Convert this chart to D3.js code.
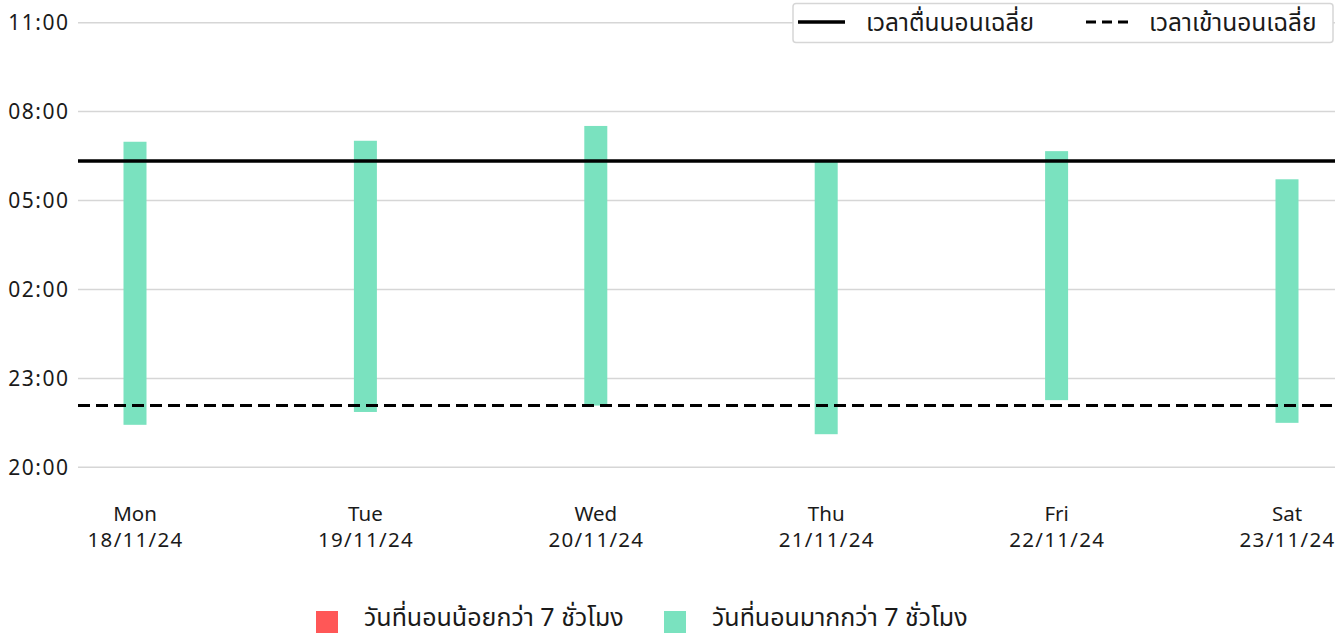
<!DOCTYPE html>
<html>
<head>
<meta charset="utf-8">
<script src="https://cdn.jsdelivr.net/npm/d3@7"></script>
<style>
  html, body { margin: 0; padding: 0; background: #fff; }
  svg { display: block; font-family: "Noto Sans", "Noto Sans Thai", "DejaVu Sans", sans-serif; }
</style>
</head>
<body>
<svg id="chart" width="1335" height="634"></svg>
<script>
// ---- data ----
const days = ["Mon", "Tue", "Wed", "Thu", "Fri", "Sat"];
const dates = ["18/11/24", "19/11/24", "20/11/24", "21/11/24", "22/11/24", "23/11/24"];
const bedTimes = ["21:26", "21:52", "22:05", "21:07", "22:16", "21:30"];
const wakeTimes = ["06:59", "07:01", "07:31", "06:19", "06:40", "05:43"];
const avgWake = "06:20";
const avgBed = "22:05";
const yTickLabels = ["20:00", "23:00", "02:00", "05:00", "08:00", "11:00"];
const legendLines = ["เวลาตื่นนอนเฉลี่ย", "เวลาเข้านอนเฉลี่ย"];
const legendBars = ["วันที่นอนน้อยกว่า 7 ชั่วโมง", "วันที่นอนมากกว่า 7 ชั่วโมง"];

const COLOR_SHORT = "#FF5757";
const COLOR_LONG = "#7AE2BF";

// hours since 20:00 (evening start)
function toH(t) {
  const [h, m] = t.split(":").map(Number);
  let v = h + m / 60 - 20;
  if (v < 0) v += 24;
  return v;
}

const svg = d3.select("#chart");
const left = 78, right = 1335;

const y = d3.scaleLinear().domain([0, 15]).range([467.3, 22.7]);
const x = d3.scalePoint().domain(days).range([135, 1287]);

// grid lines + y labels
const yTicks = yTickLabels.map(toH);
svg.append("g").selectAll("line").data(yTicks).join("line")
  .attr("x1", left).attr("x2", right)
  .attr("y1", d => y(d)).attr("y2", d => y(d))
  .attr("stroke", "#d6d6d6").attr("stroke-width", 1.5);

svg.append("g").selectAll("text").data(yTickLabels).join("text")
  .attr("x", 69.5).attr("y", d => y(toH(d)))
  .attr("dy", "0.35em").attr("text-anchor", "end")
  .attr("font-size", 21).attr("letter-spacing", 1.5).attr("fill", "#1a1a1a")
  .text(d => d);

// bars
const data = days.map((d, i) => {
  const b = toH(bedTimes[i]), w = toH(wakeTimes[i]);
  return { day: d, date: dates[i], bed: b, wake: w, dur: w - b };
});
const bw = 23;
svg.append("g").selectAll("rect").data(data).join("rect")
  .attr("x", d => x(d.day) - bw / 2)
  .attr("width", bw)
  .attr("y", d => y(d.wake))
  .attr("height", d => y(d.bed) - y(d.wake))
  .attr("fill", d => d.dur < 7 ? COLOR_SHORT : COLOR_LONG);

// average lines
svg.append("line")
  .attr("x1", left).attr("x2", right)
  .attr("y1", y(toH(avgWake))).attr("y2", y(toH(avgWake)))
  .attr("stroke", "#000").attr("stroke-width", 3.5);
svg.append("line")
  .attr("x1", left).attr("x2", right)
  .attr("y1", y(toH(avgBed))).attr("y2", y(toH(avgBed)))
  .attr("stroke", "#000").attr("stroke-width", 3)
  .attr("stroke-dasharray", "12,6");

// x labels
const xg = svg.append("g").attr("font-size", 20.5).attr("fill", "#1a1a1a").attr("text-anchor", "middle");
xg.selectAll("text.day").data(data).join("text").attr("class", "day")
  .attr("x", d => x(d.day)).attr("y", 521).text(d => d.day);
xg.selectAll("text.date").data(data).join("text").attr("class", "date")
  .attr("x", d => x(d.day) + 0.6).attr("y", 547)
  .attr("letter-spacing", 1.3).text(d => d.date);

// top-right legend
const lg = svg.append("g");
lg.append("rect").attr("x", 793).attr("y", 3.5).attr("width", 540).attr("height", 39)
  .attr("rx", 3).attr("fill", "#fff").attr("stroke", "#d6d6d6").attr("stroke-width", 1.5);
lg.append("line").attr("x1", 798).attr("x2", 845).attr("y1", 22).attr("y2", 22)
  .attr("stroke", "#000").attr("stroke-width", 3.5);
lg.append("text").attr("x", 866).attr("y", 22).attr("dy", "0.35em")
  .attr("font-size", 24.5).attr("fill", "#1a1a1a").text(legendLines[0]);
lg.append("line").attr("x1", 1086).attr("x2", 1130).attr("y1", 22).attr("y2", 22)
  .attr("stroke", "#000").attr("stroke-width", 3).attr("stroke-dasharray", "10,6");
lg.append("text").attr("x", 1149).attr("y", 22).attr("dy", "0.35em")
  .attr("font-size", 24.5).attr("fill", "#1a1a1a").text(legendLines[1]);

// bottom legend
const bl = svg.append("g");
const blX = [316, 664];
const blC = [COLOR_SHORT, COLOR_LONG];
legendBars.forEach((t, i) => {
  bl.append("rect").attr("x", blX[i]).attr("y", 611).attr("width", 22).attr("height", 22)
    .attr("fill", blC[i]);
  bl.append("text").attr("x", blX[i] + 48).attr("y", 617).attr("dy", "0.35em")
    .attr("font-size", 25).attr("fill", "#1a1a1a").text(t);
});
</script>
</body>
</html>
